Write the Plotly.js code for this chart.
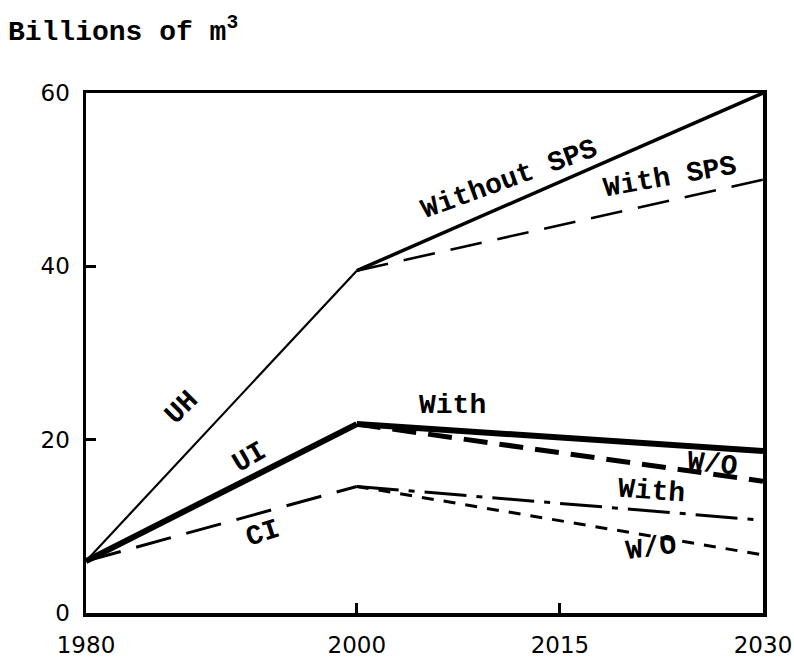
<!DOCTYPE html>
<html>
<head>
<meta charset="utf-8">
<script src="https://cdn.plot.ly/plotly-3.0.1.min.js"></script>
<style>html,body{margin:0;padding:0;background:#fff;}#chart{width:794px;height:660px;}</style>
</head>
<body>
<div id="chart"></div>
<script>
// Data (billions of m^3)
const yearsEarly = [1980, 2000];
const yearsLate = [2000, 2030];
const uhBase = [6, 39.5];
const uhWithoutSPS = [39.5, 60];
const uhWithSPS = [39.5, 50];
const uiBase = [6, 21.8];
const uiWith = [21.8, 18.7];
const uiWithout = [21.8, 15.2];
const ciBase = [6, 14.6];
const ciWith = [14.6, 10.7];
const ciWithout = [14.6, 6.7];
const xTicks = [1980, 2000, 2015, 2030];
const yTicks = [0, 20, 40, 60];

function tr(x, y, width, dash) {
  return {x: x, y: y, type: 'scatter', mode: 'lines', showlegend: false,
    hoverinfo: 'skip', line: {color: '#000', width: width, dash: dash}};
}

const traces = [
  tr(yearsEarly, uhBase, 2.2, 'solid'),
  tr(yearsLate, uhWithoutSPS, 3.5, 'solid'),
  tr(yearsLate, uhWithSPS, 2.5, '32px,16px'),
  tr(yearsEarly, uiBase, 6, 'solid'),
  tr(yearsLate, uiWith, 6, 'solid'),
  tr(yearsLate, uiWithout, 5, '24px,12px'),
  tr(yearsEarly, ciBase, 3, '36px,16px'),
  tr(yearsLate, ciWith, 3, '42px,10px,6px,10px'),
  tr(yearsLate, ciWithout, 3, '12px,10px')
];

const monoFam = '"Liberation Mono", "DejaVu Sans Mono", monospace';
const lblFont = {family: monoFam, size: 28, color: '#000', weight: 'bold'};
function ann(text, x, y, angle) {
  return {text: text, x: x, y: y, xref: 'x', yref: 'y', showarrow: false,
    textangle: angle, font: lblFont, xanchor: 'center', yanchor: 'middle'};
}

const layout = {
  width: 794, height: 660,
  margin: {l: 86, r: 31, t: 93, b: 47},
  paper_bgcolor: '#fff', plot_bgcolor: '#fff',
  title: {text: 'Billions of m<sup>3</sup>', x: 0.01, xanchor: 'left', xref: 'container',
    y: 0.955, yanchor: 'middle', yref: 'container',
    font: {family: monoFam, size: 28, color: '#000', weight: 'bold'}},
  xaxis: {range: [1980, 2030], tickvals: xTicks, ticktext: xTicks.map(String),
    showgrid: false, zeroline: false, showline: true, mirror: true, linecolor: '#000', linewidth: 3.5,
    ticks: 'inside', ticklen: 10, tickwidth: 3, tickcolor: '#000', ticklabelstandoff: 9,
    ticklabeloverflow: 'allow',
    tickfont: {family: '"DejaVu Sans", sans-serif', size: 23, color: '#000'}},
  yaxis: {range: [0, 60], tickvals: yTicks, ticktext: yTicks.map(String),
    showgrid: false, zeroline: false, showline: true, mirror: true, linecolor: '#000', linewidth: 3.5,
    ticks: 'inside', ticklen: 10, tickwidth: 3, tickcolor: '#000', ticklabelstandoff: 8,
    ticklabeloverflow: 'allow',
    tickfont: {family: '"DejaVu Sans", sans-serif', size: 23, color: '#000'}},
  annotations: [
    ann('Without SPS', 2011.3, 50.0, -20),
    ann('With SPS', 2023.1, 50.2, -10),
    ann('UH', 1987.1, 23.7, -45),
    ann('UI', 1992.1, 17.9, -30),
    ann('CI', 1993.1, 9.2, -18),
    ann('With', 2007.1, 24.0, 0),
    ann('W/O', 2026.25, 17.1, 6),
    ann('With', 2021.8, 14.0, 4),
    ann('W/O', 2021.7, 7.5, -8)
  ]
};

Plotly.newPlot('chart', traces, layout, {displayModeBar: false, staticPlot: true});
</script>
</body>
</html>
